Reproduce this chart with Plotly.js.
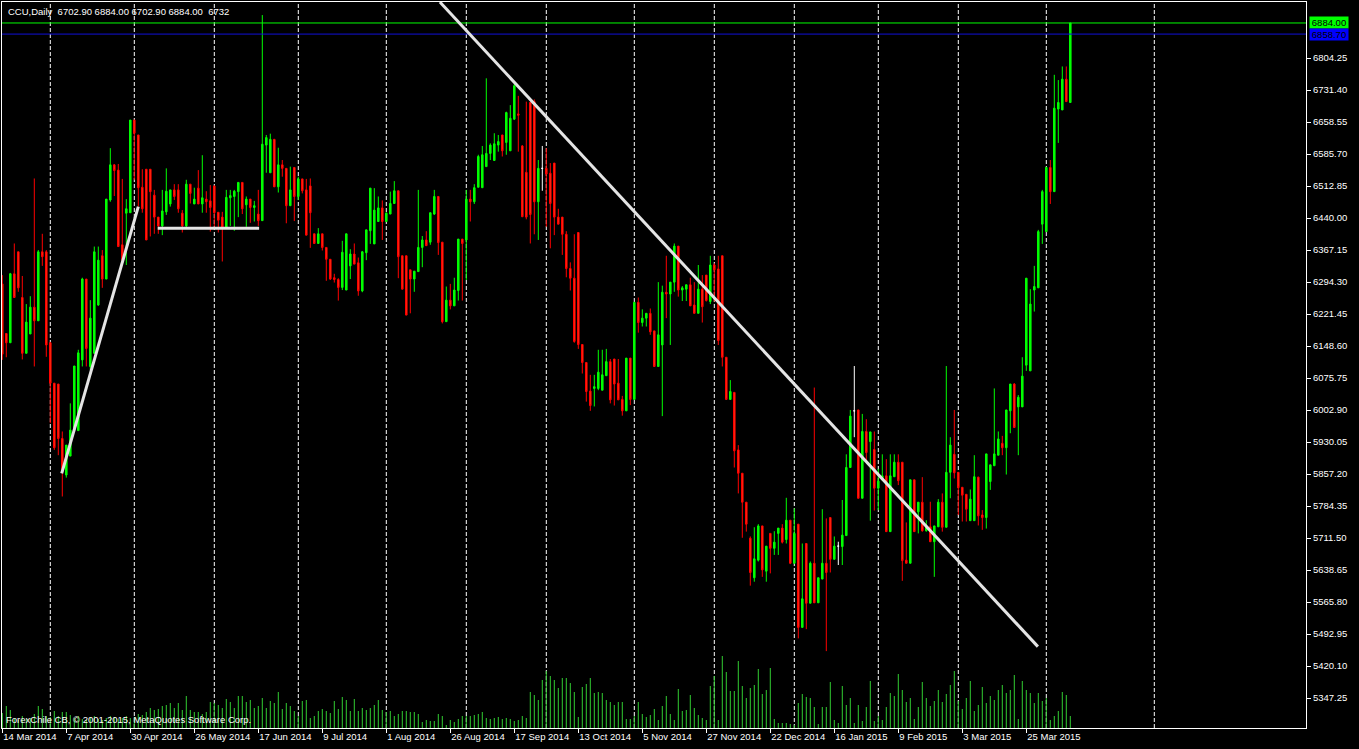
<!DOCTYPE html>
<html><head><meta charset="utf-8">
<script src="https://cdn.plot.ly/plotly-3.0.1.min.js"></script>
<style>html,body{margin:0;padding:0;background:#000;}#chart{width:1359px;height:749px;}</style>
</head><body><div id="chart"></div>
<script>
// CCU Daily, one entry per trading bar (14 Mar 2014 ... Apr 2015)
const openP = [
6290,6177,6156,6313,6363,6259,6132,6176,6237,6206,
6363,6363,6156,6064,6062,5938,5855,5898,5957,5956,
6117,6301,6102,6132,6242,6354,6301,6481,6561,6549,
6379,6451,6452,6663,6629,6510,6551,6551,6492,6442,
6422,6454,6472,6504,6504,6451,6422,6517,6472,6508,
6472,6483,6479,6513,6453,6442,6419,6486,6489,6500,
6521,6470,6483,6464,6449,6434,6606,6543,6619,6511,
6561,6553,6468,6555,6489,6529,6504,6513,6404,6382,
6404,6373,6346,6304,6300,6282,6276,6331,6358,6338,
6274,6361,6411,6381,6432,6463,6432,6449,6473,6502,
6354,6354,6322,6301,6318,6373,6390,6385,6449,6489,
6385,6204,6253,6240,6275,6392,6390,6483,6477,6510,
6509,6557,6587,6571,6606,6629,6612,6593,6665,6677,
6604,6544,6703,6705,6477,6553,6553,6542,6565,6442,
6442,6403,6325,6303,6407,6152,6111,6046,6052,6052,
6048,6081,6113,6119,6064,6027,6001,6121,6027,6248,
6202,6212,6223,6183,6102,6151,6271,6267,6294,6376,
6276,6278,6288,6242,6223,6278,6310,6250,6333,6324,
6354,6123,6027,6043,5912,5859,5793,5711,5621,5661,
5739,5636,5722,5688,5722,5734,5708,5752,5654,5743,
5508,5699,5563,5654,5564,5618,5654,5758,5663,5693,
5692,5717,5872,6001,6003,5802,5954,5931,5913,5825,
5844,5853,5726,5851,5884,5884,5661,5654,5844,5771,
5793,5728,5737,5703,5737,5793,5736,5861,5902,5861,
5827,5811,5751,5751,5850,5764,5758,5840,5876,5900,
5927,5917,6001,6062,6010,6010,6105,6092,6276,6281,
6426,6409,6555,6500,6688,6686,6756,6702.9];
const highP = [
6310,6178,6315,6382,6363,6308,6244,6262,6530,6367,
6404,6367,6158,6064,6062,5954,5923,6018,6103,6140,
6304,6301,6253,6375,6375,6367,6483,6599,6563,6563,
6529,6483,6663,6663,6629,6551,6551,6551,6504,6442,
6504,6553,6504,6517,6517,6458,6527,6517,6509,6549,
6583,6501,6515,6513,6453,6454,6504,6504,6504,6521,
6521,6489,6483,6479,6504,6902,6629,6632,6620,6600,
6572,6553,6557,6555,6534,6529,6529,6530,6404,6417,
6404,6373,6346,6313,6303,6388,6404,6369,6382,6350,
6365,6413,6508,6508,6489,6480,6453,6500,6524,6502,
6354,6354,6322,6319,6504,6399,6410,6452,6504,6489,
6385,6284,6290,6304,6392,6392,6504,6504,6517,6584,
6604,6758,6610,6633,6629,6629,6682,6697,6745,6718,
6606,6705,6703,6710,6572,6604,6599,6565,6565,6461,
6442,6410,6339,6403,6407,6152,6111,6083,6083,6140,
6140,6142,6119,6119,6119,6035,6121,6121,6248,6259,
6232,6223,6234,6183,6294,6286,6354,6294,6382,6376,
6285,6288,6304,6294,6333,6310,6310,6354,6337,6354,
6354,6123,6071,6043,5923,5859,5793,5715,5736,5743,
5739,5693,5722,5727,5734,5743,5803,5752,5779,5743,
5699,5699,5658,6054,5621,5777,5756,5758,5715,5703,
5798,5902,6003,6103,6003,5994,5982,5953,5954,5869,
5902,5891,5902,5902,5902,5884,5747,5844,5844,5793,
5850,5752,5794,5739,5800,5813,6103,5941,6003,5861,
5827,5811,5822,5900,5851,5775,5903,5878,6052,5954,
5944,6003,6062,6064,6037,6123,6303,6278,6331,6413,
6504,6555,6572,6766,6754,6785,6785,6884];
const lowP = [
6117,6123,6156,6259,6272,6118,6132,6176,6102,6206,
6331,6124,5973,5912,5900,5806,5849,5898,5957,5956,
6102,6102,6094,6132,6240,6281,6301,6477,6490,6375,
6341,6333,6452,6527,6466,6452,6390,6398,6404,6404,
6401,6447,6466,6481,6452,6407,6419,6473,6472,6472,
6452,6452,6409,6420,6407,6341,6419,6422,6411,6442,
6449,6420,6429,6432,6422,6434,6543,6543,6511,6498,
6534,6428,6468,6433,6481,6496,6401,6372,6382,6382,
6366,6297,6299,6293,6252,6276,6276,6301,6335,6263,
6271,6344,6381,6381,6432,6390,6432,6449,6473,6303,
6278,6219,6223,6272,6318,6328,6377,6379,6447,6356,
6200,6204,6232,6240,6252,6252,6299,6432,6472,6510,
6509,6557,6572,6571,6591,6580,6584,6593,6663,6591,
6442,6437,6382,6403,6390,6502,6420,6371,6401,6426,
6356,6305,6275,6156,6142,6086,6022,6001,6011,6048,
6048,6081,6018,6013,6026,5990,6001,6014,6027,6179,
6193,6193,6174,6102,6102,5989,6212,6151,6272,6261,
6251,6251,6240,6223,6223,6202,6250,6244,6250,6151,
6102,6027,6027,5872,5813,5712,5726,5603,5612,5658,
5623,5612,5631,5673,5673,5699,5699,5652,5654,5483,
5508,5504,5563,5564,5564,5618,5454,5633,5663,5650,
5650,5717,5872,5941,5802,5802,5889,5751,5774,5775,
5843,5726,5726,5851,5832,5614,5654,5654,5726,5722,
5726,5726,5703,5623,5737,5726,5736,5802,5847,5764,
5749,5749,5751,5751,5740,5730,5733,5821,5876,5900,
5900,5856,5950,5963,5900,6010,6092,6092,6227,6281,
6381,6409,6472,6500,6611,6686,6705,6702.9];
const closeP = [
6130,6156,6313,6259,6281,6132,6203,6237,6206,6363,
6352,6151,6064,5917,5938,5863,5923,5957,6103,6133,
6301,6143,6212,6363,6344,6301,6483,6561,6548,6375,
6344,6461,6663,6633,6509,6461,6390,6500,6442,6422,
6456,6501,6504,6489,6461,6422,6517,6496,6483,6472,
6486,6477,6464,6452,6435,6419,6487,6491,6501,6521,
6461,6483,6464,6468,6434,6608,6623,6619,6511,6561,
6553,6468,6504,6489,6529,6502,6401,6452,6382,6404,
6373,6346,6301,6300,6282,6362,6404,6358,6335,6274,
6363,6413,6508,6458,6463,6432,6451,6473,6502,6352,
6278,6219,6301,6319,6373,6390,6377,6452,6489,6384,
6204,6253,6240,6276,6392,6382,6483,6477,6509,6580,
6584,6587,6606,6609,6614,6593,6680,6667,6741,6674,
6443,6442,6448,6477,6553,6553,6540,6473,6442,6426,
6403,6325,6303,6159,6152,6111,6045,6013,6056,6089,
6083,6113,6026,6062,6026,6001,6121,6027,6248,6202,
6212,6223,6181,6102,6174,6271,6267,6294,6376,6276,
6281,6288,6240,6223,6278,6238,6252,6333,6322,6161,
6123,6027,6045,5910,5859,5793,5743,5633,5664,5739,
5639,5693,5688,5702,5734,5702,5752,5654,5722,5508,
5573,5563,5654,5564,5621,5654,5633,5663,5693,5693,
5718,5872,5989,6001,5802,5954,5906,5953,5825,5841,
5853,5726,5853,5884,5842,5660,5654,5844,5726,5793,
5728,5737,5703,5739,5793,5736,5861,5923,5860,5826,
5809,5777,5800,5851,5762,5758,5903,5878,5903,5937,
5917,6003,6062,5963,6032,6080,6303,6244,6284,6409,
6500,6555,6500,6690,6703,6756,6705,6884];
const volume = [
8400,12320,10080,5600,4480,6720,5040,5600,7840,12320,
10640,6720,6160,9520,6720,8960,8960,7280,5600,6720,
5040,4480,5600,6720,5040,4480,5600,6720,6160,5040,
5600,6720,5600,6160,7840,7280,8960,11200,10080,10640,
12320,12880,14000,11200,14000,10080,17920,10080,8960,8960,
7840,8960,14560,14000,12880,11200,16240,14560,11200,17920,
17920,14560,15680,11200,12320,16800,11200,15120,14000,20160,
10640,14000,12320,9520,6720,15120,15680,5600,6720,9520,
10640,9520,8400,15120,10640,17360,15680,9520,16240,9520,
11200,10080,11200,12880,15680,10080,8960,9520,6720,7840,
9520,9520,8960,8960,7840,3360,4480,3920,3920,7840,
6720,1680,4480,3360,5040,6720,6720,6720,7280,7840,
8960,5600,5040,5600,6160,5040,5600,5040,3920,4480,
6720,5600,20160,18480,15680,26880,31920,29120,26880,22400,
28000,28000,25200,20160,6160,22960,24640,28000,19600,20160,
19600,15680,14560,12880,14560,14560,5040,5040,6720,14560,
7840,6160,7280,10640,4480,12320,17920,7840,4480,21840,
9520,10080,18480,11200,7280,5600,4480,23520,29120,4480,
40320,31360,20720,20720,37520,23520,16800,22400,24080,33040,
19040,21280,33600,5040,2800,2800,2800,2240,1680,14000,
19040,17360,16800,11760,2240,11760,11760,25760,4480,2800,
23520,12880,16800,2800,12880,3920,11760,26320,3920,6720,
4480,11760,19600,17920,30240,21280,14560,16800,5040,11760,
25760,16800,12320,15120,21280,14560,19040,24080,31920,15120,
10640,16800,26320,9520,12880,22960,14000,17920,15680,21280,
24080,19600,21280,29680,5040,26320,21280,19600,14000,19600,
15120,16800,4480,6720,9520,20160,18480,6732];

// x-axis labels (bar index of each label) and monthly separators
const labelBars = [0,16,32,48,64,80,96,112,128,144,160,176,192,208,224,240,256];
const dateLabels = ["14 Mar 2014","7 Apr 2014","30 Apr 2014","26 May 2014","17 Jun 2014","9 Jul 2014",
  "1 Aug 2014","26 Aug 2014","17 Sep 2014","13 Oct 2014","5 Nov 2014","27 Nov 2014","22 Dec 2014",
  "16 Jan 2015","9 Feb 2015","3 Mar 2015","25 Mar 2015"];
const separatorBars = [12,33,53,74,96,116,136,158,178,198,219,239,261,288];
const priceTicks = [5347.25,5420.10,5492.95,5565.80,5638.65,5711.50,5784.35,5857.20,5930.05,6002.90,
  6075.75,6148.60,6221.45,6294.30,6367.15,6440.00,6512.85,6585.70,6658.55,6731.40,6804.25];
const bidPrice = 6884.00;
const askPrice = 6858.70;
const headerText = "CCU,Daily\u00a0\u00a06702.90 6884.00 6702.90 6884.00\u00a0\u00a06732";
const footerText = "ForexChile CB, \u00a9 2001-2015, MetaQuotes Software Corp.";
// hand-drawn trend lines: [bar, price] -> [bar, price]
const trendLines = [
  [[14.85, 5858.8], [34.0, 6465.7]],
  [[38.85, 6416.5], [64.2, 6416.5]],
  [[109.4, 6931.7], [258.9, 5464.2]]
];

const idx = openP.map((_, i) => i);
const isDoji = i => openP[i] === closeP[i];
const normalIds = idx.filter(i => !isDoji(i));
const dojiIds = idx.filter(isDoji);
const pick = (arr, ids) => ids.map(i => arr[i]);

const FONT = 'Liberation Sans, Arial, sans-serif';

const traces = [
  {type:'bar', x: idx, y: volume, yaxis:'y2', width:0.25,
   marker:{color:'#32cd32', line:{width:0}}, hoverinfo:'skip', showlegend:false},
  {type:'candlestick', x: normalIds, open: pick(openP, normalIds), high: pick(highP, normalIds),
   low: pick(lowP, normalIds), close: pick(closeP, normalIds),
   increasing:{line:{color:'#00ff00', width:1}, fillcolor:'#00ff00'},
   decreasing:{line:{color:'#ff0000', width:1}, fillcolor:'#ff3c14'},
   whiskerwidth:0, hoverinfo:'skip', showlegend:false},
  {type:'candlestick', x: dojiIds, open: pick(openP, dojiIds), high: pick(highP, dojiIds),
   low: pick(lowP, dojiIds), close: pick(closeP, dojiIds),
   increasing:{line:{color:'#ffffff', width:1}, fillcolor:'#ffffff'},
   decreasing:{line:{color:'#ffffff', width:1}, fillcolor:'#ffffff'},
   whiskerwidth:0, hoverinfo:'skip', showlegend:false}
];

const shapes = [];
separatorBars.forEach(b => shapes.push({type:'line', xref:'x', yref:'paper', x0:b, x1:b, y0:0, y1:1,
  line:{color:'#ffffff', width:1, dash:'4px,2px'}, layer:'below'}));
shapes.push({type:'line', xref:'paper', yref:'y', x0:0, x1:1, y0:bidPrice, y1:bidPrice, line:{color:'#00ff00', width:1}});
shapes.push({type:'line', xref:'paper', yref:'y', x0:0, x1:1, y0:askPrice, y1:askPrice, line:{color:'#1010d8', width:1}});
trendLines.forEach(t => shapes.push({type:'line', xref:'x', yref:'y', x0:t[0][0], y0:t[0][1], x1:t[1][0], y1:t[1][1],
  line:{color:'#e4e4e4', width:3}}));

const annotations = [
  {xref:'paper', yref:'paper', x:0, y:1, xanchor:'left', yanchor:'top', xshift:4, yshift:-2,
   text: headerText, showarrow:false, font:{family:FONT, size:9.5, color:'#ffffff'}},
  {xref:'paper', yref:'paper', x:0, y:0, xanchor:'left', yanchor:'bottom', xshift:2, yshift:1,
   text: footerText, showarrow:false, font:{family:FONT, size:9.5, color:'#ffffff'}},
  {xref:'paper', yref:'y', x:1, y:bidPrice, xanchor:'left', yanchor:'middle', xshift:3,
   text: bidPrice.toFixed(2), showarrow:false, bgcolor:'#00ff00', borderpad:0, width:38, height:11,
   font:{family:FONT, size:9.5, color:'#000000'}},
  {xref:'paper', yref:'y', x:1, y:askPrice, xanchor:'left', yanchor:'middle', xshift:3,
   text: askPrice.toFixed(2), showarrow:false, bgcolor:'#0000ff', borderpad:0, width:38, height:11,
   font:{family:FONT, size:9.5, color:'#000000'}}
];

const layout = {
  width:1359, height:749,
  paper_bgcolor:'#000000', plot_bgcolor:'#000000',
  margin:{l:2, r:53, t:2, b:21},
  showlegend:false, hovermode:false, dragmode:false,
  boxgap:0.45,
  xaxis:{range:[-0.075, 325.925], showgrid:false, zeroline:false, showline:true, linecolor:'#ffffff',
    linewidth:1, mirror:true, ticks:'outside', ticklen:4, tickcolor:'#ffffff',
    tickvals: labelBars, ticktext: dateLabels, ticklabelposition:'outside right',
    tickfont:{family:FONT, size:9.5, color:'#ffffff'}, rangeslider:{visible:false}, fixedrange:true},
  yaxis:{side:'right', range:[5278.95, 6931.74], showgrid:false, zeroline:false, showline:true,
    linecolor:'#ffffff', linewidth:1, mirror:true, ticks:'outside', ticklen:4, tickcolor:'#ffffff',
    tickvals: priceTicks, tickformat:'.2f', tickfont:{family:FONT, size:9.5, color:'#ffffff'}, fixedrange:true},
  yaxis2:{overlaying:'y', range:[0, 406560], visible:false, fixedrange:true},
  shapes: shapes,
  annotations: annotations
};

Plotly.newPlot('chart', traces, layout, {staticPlot:true, displayModeBar:false});
</script>
</body></html>
